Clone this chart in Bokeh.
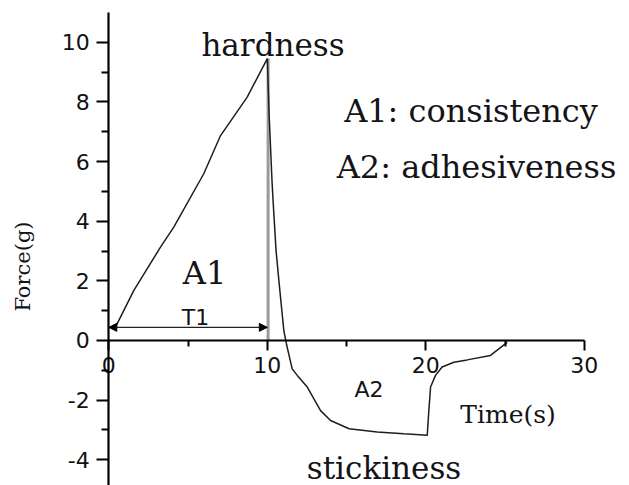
from bokeh.plotting import figure
from bokeh.models import LinearAxis, FixedTicker, Range1d, Label, Arrow, NormalHead
from bokeh.embed import file_html
from bokeh.resources import INLINE

# ---- data ----
time_s = [0.42, 1.58, 3.26, 4.10, 5.99, 7.05, 8.73, 10.0, 10.12, 10.30, 10.40, 10.55,
          10.75, 11.04, 11.20, 11.57, 11.89, 12.52, 12.94, 13.36, 13.99, 15.16, 16.93,
          18.61, 20.09, 20.19, 20.30, 20.61, 21.03, 21.77, 22.61, 24.08, 25.13]
force_g = [0.45, 1.68, 3.13, 3.80, 5.59, 6.87, 8.16, 9.45, 7.50, 5.30, 4.36, 3.02,
           1.90, 0.34, -0.10, -0.95, -1.17, -1.56, -1.96, -2.35, -2.68, -2.96, -3.07,
           -3.13, -3.18, -2.35, -1.56, -1.17, -0.89, -0.73, -0.65, -0.50, -0.06]

x_ticks = [0, 10, 20, 30]
x_minor = [5, 15, 25]
y_ticks = [-4, -2, 0, 2, 4, 6, 8, 10]
y_minor = [-3, -1, 1, 3, 5, 7, 9]
y_tick_text = {-4: "-4", -2: "-2"}

t1_start, t1_end, t1_level = 0, 10, 0.44
hardness_time, hardness_force = 10.05, 9.45

SERIF = "DejaVu Serif"
SANS = "DejaVu Sans"
INK = "#141418"

p = figure(width=629, height=485,
           x_range=Range1d(-6.833, 32.85), y_range=Range1d(-4.861, 11.398),
           x_axis_type=None, y_axis_type=None,
           output_backend="svg", toolbar_location=None, min_border=0)
p.outline_line_color = None
p.background_fill_color = "white"
p.border_fill_color = "white"

# A1 boundary at the end of T1
p.segment(x0=[hardness_time], y0=[0], x1=[hardness_time], y1=[hardness_force],
          line_color="#9a9a9a", line_width=3)

# force curve
p.line(time_s, force_g, line_color="#1e1e1e", line_width=1.5)

# T1 double arrow
p.add_layout(Arrow(x_start=t1_start, y_start=t1_level, x_end=t1_end, y_end=t1_level,
                   line_color="#222222", line_width=1.3,
                   start=NormalHead(size=8, fill_color="black", line_color="black"),
                   end=NormalHead(size=8, fill_color="black", line_color="black")))

def style_axis(ax, tick_out, minor_out, standoff):
    ax.axis_line_width = 2.2
    ax.axis_line_color = "black"
    ax.major_tick_line_width = 2
    ax.minor_tick_line_width = 2
    ax.major_tick_in = 0
    ax.minor_tick_in = 0
    ax.major_tick_out = tick_out
    ax.minor_tick_out = minor_out
    ax.major_label_text_font = SANS
    ax.major_label_text_font_size = "22px"
    ax.major_label_text_color = "#111111"
    ax.major_label_standoff = standoff

xaxis = LinearAxis(fixed_location=0, bounds=(0, 30),
                   ticker=FixedTicker(ticks=x_ticks, minor_ticks=x_minor))
style_axis(xaxis, 10, 6, 7)
p.add_layout(xaxis, "below")

yaxis = LinearAxis(fixed_location=0, bounds=(-5, 11.0),
                   ticker=FixedTicker(ticks=y_ticks, minor_ticks=y_minor),
                   major_label_overrides=y_tick_text)
style_axis(yaxis, 12, 7, 7)
p.add_layout(yaxis, "left")

def lab(x, y, text, font, size, align="center", baseline="alphabetic", angle=0):
    p.add_layout(Label(x=x, y=y, text=text, text_font=font, text_font_size=size,
                       text_color=INK, text_align=align, text_baseline=baseline,
                       angle=angle))

lab(10.36, 9.89, "hardness", SERIF, "31px")
lab(22.85, 7.71, "A1: consistency", SERIF, "32px")
lab(23.2, 5.80, "A2: adhesiveness", SERIF, "32px")
lab(6.04, 2.25, "A1", SERIF, "32px")
lab(5.47, 0.77, "T1", SANS, "22px")
lab(16.42, -1.64, "A2", SANS, "22px")
lab(25.19, -2.48, "Time(s)", SERIF, "25px")
lab(17.36, -4.26, "stickiness", SERIF, "31px")
lab(-5.44, 2.48, "Force(g)", SERIF, "21px", baseline="middle", angle=1.5708)

open("out.html", "w").write(file_html(p, INLINE))
